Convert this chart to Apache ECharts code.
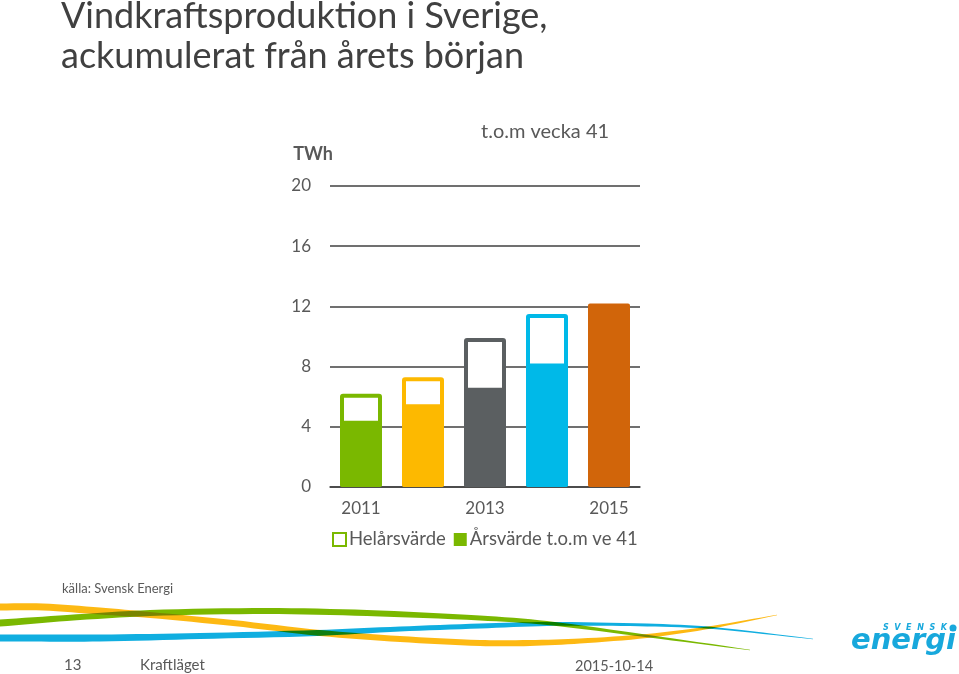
<!DOCTYPE html>
<html>
<head>
<meta charset="utf-8">
<title>Vindkraftsproduktion i Sverige</title>
<script src="https://cdn.jsdelivr.net/npm/echarts@6/dist/echarts.min.js"></script>
<style>
  html, body { margin: 0; padding: 0; background: #fff; }
  #main { width: 959px; height: 674px; }
</style>
</head>
<body>
<div id="main"></div>
<script>
  // data
  var years = ['2011', '2012', '2013', '2014', '2015'];
  var helarsvarde = [6.2, 7.3, 9.9, 11.5, null];
  var arsvardeTom = [4.4, 5.5, 6.6, 8.2, 12.2];
  var barColors = ['#7AB800', '#FDB900', '#5B5F61', '#00B9E8', '#D1650A'];

  var font = 'Lato, "Open Sans", sans-serif';
  var textColor = '#595959';

  // decorative ribbons in the footer: x, y, thickness along the spine
  var ribbonOrange = [[-20, 607, 7], [0, 607, 7], [43, 607, 7], [100, 611, 7], [150, 615, 6], [233, 623, 6], [320, 633, 6], [400, 639, 6], [480, 643, 6], [530, 643, 6], [580, 641, 5], [647, 636, 4], [713, 627, 2.5], [777, 615, 0.5]];
  var ribbonGreen = [[-20, 624, 7], [0, 623, 7], [67, 618, 6], [150, 613, 6], [267, 611, 6], [367, 613, 6], [480, 618, 5], [547, 623, 4], [647, 636, 2.5], [750, 650, 0.5]];
  var ribbonBlue = [[-20, 638, 7], [0, 638, 7], [100, 638, 7], [200, 636, 6], [317, 633, 6], [400, 629, 5], [480, 626, 5], [547, 624, 4], [647, 625, 3], [713, 628, 2], [813, 639, 0.5]];

  function ribbon(spine, color) {
    var top = spine.map(function (p) { return [p[0], p[1] - p[2] / 2]; });
    var bottom = spine.map(function (p) { return [p[0], p[1] + p[2] / 2]; }).reverse();
    return {
      type: 'polygon',
      shape: { points: top.concat(bottom), smooth: 0.3 },
      style: { fill: color, blend: 'multiply' },
      silent: true
    };
  }

  function label(x, y, text, size, color, extra) {
    var style = { text: text, x: x, y: y, font: size + 'px ' + font, fill: color || textColor, textVerticalAlign: 'middle' };
    for (var k in extra) style[k] = extra[k];
    return { type: 'text', style: style, silent: true };
  }

  var chart = echarts.init(document.getElementById('main'), null, { renderer: 'canvas' });

  chart.setOption({
    backgroundColor: '#fff',
    animation: false,
    title: [
      {
        text: 'Vindkraftsproduktion i Sverige,\nackumulerat från årets början',
        left: 56, top: -9,
        textStyle: { fontFamily: font, fontSize: 36, fontWeight: 'normal', color: '#404040', lineHeight: 40 }
      },
      {
        text: 't.o.m vecka 41',
        left: 476, top: 117,
        textStyle: { fontFamily: font, fontSize: 20, fontWeight: 'normal', color: textColor }
      }
    ],
    legend: {
      left: 327, top: 525,
      itemWidth: 13, itemHeight: 13, itemGap: 8,
      icon: 'rect',
      selectedMode: false,
      textStyle: { fontFamily: font, fontSize: 18.5, color: textColor, padding: [0, 0, 0, -2] },
      data: ['Helårsvärde', 'Årsvärde t.o.m ve 41']
    },
    grid: { left: 330, right: 319, top: 186, bottom: 187 },
    xAxis: {
      type: 'category',
      data: years,
      axisLine: { lineStyle: { color: '#404040', width: 1.5 } },
      axisTick: { show: false },
      axisLabel: { interval: 1, margin: 13, fontFamily: font, fontSize: 17, color: textColor }
    },
    yAxis: {
      type: 'value',
      min: 0, max: 20, interval: 4,
      name: 'TWh',
      nameLocation: 'end',
      nameGap: 23,
      nameTextStyle: { fontFamily: font, fontSize: 18, fontWeight: 'bold', color: textColor, align: 'right', padding: [0, -3, 0, 0] },
      axisLine: { show: false },
      axisTick: { show: false },
      axisLabel: { margin: 19, fontFamily: font, fontSize: 17, color: textColor },
      splitLine: { lineStyle: { color: '#404040', width: 1.5 } }
    },
    series: [
      {
        name: 'Helårsvärde',
        type: 'bar',
        barWidth: 42,
        barGap: '-100%',
        z: 3,
        itemStyle: { color: '#fff', borderColor: barColors[0], borderWidth: 3 },
        data: helarsvarde.map(function (v, i) {
          return { value: v, itemStyle: { color: '#fff', borderColor: barColors[i], borderWidth: 4, borderRadius: 1 } };
        })
      },
      {
        name: 'Årsvärde t.o.m ve 41',
        type: 'bar',
        barWidth: 42,
        barGap: '-100%',
        z: 4,
        itemStyle: { color: barColors[0] },
        data: arsvardeTom.map(function (v, i) {
          return { value: v, itemStyle: { color: barColors[i], borderColor: barColors[i], borderWidth: 2, borderRadius: 1 } };
        })
      }
    ],
    graphic: [
      label(62, 589, 'källa: Svensk Energi', 13),
      ribbon(ribbonOrange, '#FDB913'),
      ribbon(ribbonGreen, '#7AB800'),
      ribbon(ribbonBlue, '#10AEE0'),
      label(64, 665, '13', 15),
      label(140, 665, 'Kraftläget', 15),
      label(575, 666, '2015-10-14', 14.5),
      // logo
      label(883, 628, 'S  V  E  N  S  K', 8, '#18A8DC', { font: 'italic bold 8px "DejaVu Sans"' }),
      { type: 'circle', shape: { cx: 953, cy: 628, r: 3.5 }, style: { fill: '#18A8DC' }, silent: true },
      label(851, 641, 'energi', 29, '#18A8DC', { font: 'italic bold 29px "DejaVu Sans"' })
    ]
  });
</script>
</body>
</html>
